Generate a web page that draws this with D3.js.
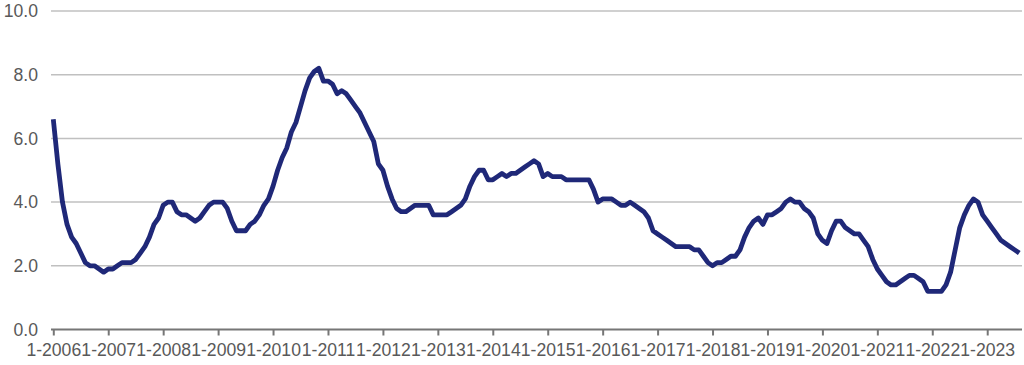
<!DOCTYPE html>
<meta charset="utf-8">
<script src="https://d3js.org/d3.v7.min.js"></script>
<style>
  body { margin: 0; background: #fff; }
</style>
<div id="my_dataviz"></div>
<script>

// monthly values, starting 1-2006
var values = [
  6.6, 5.2, 4.0, 3.3, 2.9, 2.7, 2.4, 2.1, 2.0, 2.0, 1.9, 1.8,
  1.9, 1.9, 2.0, 2.1, 2.1, 2.1, 2.2, 2.4, 2.6, 2.9, 3.3, 3.5,
  3.9, 4.0, 4.0, 3.7, 3.6, 3.6, 3.5, 3.4, 3.5, 3.7, 3.9, 4.0,
  4.0, 4.0, 3.8, 3.4, 3.1, 3.1, 3.1, 3.3, 3.4, 3.6, 3.9, 4.1,
  4.5, 5.0, 5.4, 5.7, 6.2, 6.5, 7.0, 7.5, 7.9, 8.1, 8.2, 7.8,
  7.8, 7.7, 7.4, 7.5, 7.4, 7.2, 7.0, 6.8, 6.5, 6.2, 5.9, 5.2,
  5.0, 4.5, 4.1, 3.8, 3.7, 3.7, 3.8, 3.9, 3.9, 3.9, 3.9, 3.6,
  3.6, 3.6, 3.6, 3.7, 3.8, 3.9, 4.1, 4.5, 4.8, 5.0, 5.0, 4.7,
  4.7, 4.8, 4.9, 4.8, 4.9, 4.9, 5.0, 5.1, 5.2, 5.3, 5.2, 4.8,
  4.9, 4.8, 4.8, 4.8, 4.7, 4.7, 4.7, 4.7, 4.7, 4.7, 4.4, 4.0,
  4.1, 4.1, 4.1, 4.0, 3.9, 3.9, 4.0, 3.9, 3.8, 3.7, 3.5, 3.1,
  3.0, 2.9, 2.8, 2.7, 2.6, 2.6, 2.6, 2.6, 2.5, 2.5, 2.3, 2.1,
  2.0, 2.1, 2.1, 2.2, 2.3, 2.3, 2.5, 2.9, 3.2, 3.4, 3.5, 3.3,
  3.6, 3.6, 3.7, 3.8, 4.0, 4.1, 4.0, 4.0, 3.8, 3.7, 3.5, 3.0,
  2.8, 2.7, 3.1, 3.4, 3.4, 3.2, 3.1, 3.0, 3.0, 2.8, 2.6, 2.2,
  1.9, 1.7, 1.5, 1.4, 1.4, 1.5, 1.6, 1.7, 1.7, 1.6, 1.5, 1.2,
  1.2, 1.2, 1.2, 1.4, 1.8, 2.5, 3.2, 3.6, 3.9, 4.1, 4.0, 3.6,
  3.4, 3.2, 3.0, 2.8, 2.7, 2.6, 2.5, 2.4
];

// x tick labels (January of each year)
var tickLabels = ["1-2006", "1-2007", "1-2008", "1-2009", "1-2010", "1-2011",
  "1-2012", "1-2013", "1-2014", "1-2015", "1-2016", "1-2017",
  "1-2018", "1-2019", "1-2020", "1-2021", "1-2022", "1-2023"];

var yTicks = [0, 2, 4, 6, 8, 10];

// month categories: "1-2006", "2-2006", ...
var months = values.map(function(d, i) {
  return (i % 12 + 1) + "-" + (2006 + Math.floor(i / 12));
});

var W = 1024, H = 365;
var margin = {top: 11, right: 4, bottom: 35.5, left: 53.3};

var svg = d3.select("#my_dataviz")
  .append("svg")
    .attr("width", W)
    .attr("height", H);

var x = d3.scalePoint()
    .domain(months)
    .range([margin.left, margin.left + 4.578 * (months.length - 1)]);

var y = d3.scaleLinear()
    .domain([0, 10])
    .range([H - margin.bottom, margin.top]);

var font = "Liberation Sans, Arial, sans-serif";
var fontSize = "17.6px ";

// gridlines
svg.append("g")
  .selectAll("line")
  .data(yTicks.filter(function(d) { return d > 0; }))
  .enter().append("line")
    .attr("x1", 51)
    .attr("x2", 1022)
    .attr("y1", function(d) { return y(d); })
    .attr("y2", function(d) { return y(d); })
    .attr("stroke", "#c0c0c0")
    .attr("stroke-width", 1.5);

// y labels
svg.append("g")
  .selectAll("text")
  .data(yTicks)
  .enter().append("text")
    .attr("x", 38)
    .attr("y", function(d) { return y(d); })
    .attr("dy", "0.35em")
    .attr("text-anchor", "end")
    .style("font", fontSize + font)
    .style("fill", "#595959")
    .text(function(d) { return d.toFixed(1); });

// x axis
var xAxis = svg.append("g")
    .attr("transform", "translate(0," + y(0) + ")")
    .call(d3.axisBottom(x)
      .tickValues(tickLabels)
      .tickSize(6)
      .tickPadding(8)
      .tickSizeOuter(0));

xAxis.select(".domain")
    .attr("d", "M51,0H1022")
    .attr("stroke", "#767676")
    .attr("stroke-width", 2.2);
xAxis.selectAll(".tick line")
    .attr("stroke", "#767676")
    .attr("stroke-width", 2);
xAxis.selectAll(".tick text")
    .style("font", fontSize + font)
    .style("fill", "#595959");

// the line
var line = d3.line()
    .x(function(d, i) { return x(months[i]); })
    .y(function(d) { return y(d); });

svg.append("path")
    .datum(values)
    .attr("d", line)
    .attr("fill", "none")
    .attr("stroke", "#1f2878")
    .attr("stroke-width", 4.8)
    .attr("stroke-linejoin", "round")
    .attr("stroke-linecap", "butt");

</script>
